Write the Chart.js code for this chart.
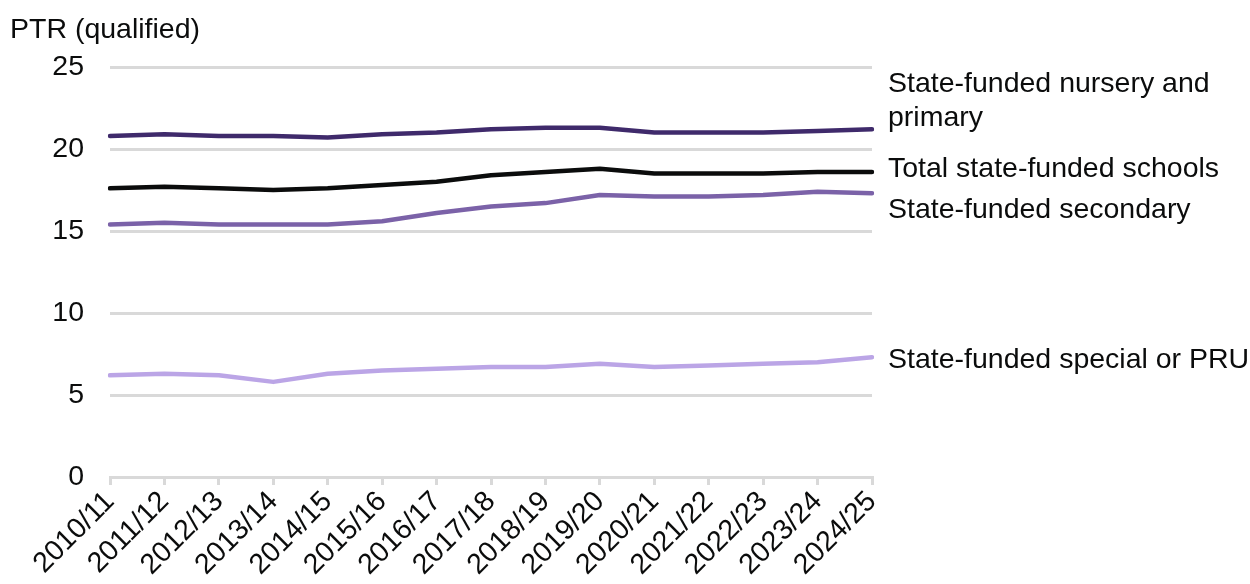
<!DOCTYPE html>
<html>
<head>
<meta charset="utf-8">
<script src="https://cdn.jsdelivr.net/npm/chart.js@4"></script>
<style>
    html, body { margin: 0; padding: 0; background: #ffffff; }
    #wrap { width: 1250px; height: 584px; position: relative; }
</style>
</head>
<body>
<div id="wrap"><canvas id="ptrChart"></canvas></div>
<script>
const years = ["2010/11", "2011/12", "2012/13", "2013/14", "2014/15", "2015/16", "2016/17",
    "2017/18", "2018/19", "2019/20", "2020/21", "2021/22", "2022/23", "2023/24", "2024/25"];

const nurseryPrimary = [20.8, 20.9, 20.8, 20.8, 20.7, 20.9, 21.0, 21.2, 21.3, 21.3, 21.0, 21.0, 21.0, 21.1, 21.2];
const totalSchools   = [17.6, 17.7, 17.6, 17.5, 17.6, 17.8, 18.0, 18.4, 18.6, 18.8, 18.5, 18.5, 18.5, 18.6, 18.6];
const secondary      = [15.4, 15.5, 15.4, 15.4, 15.4, 15.6, 16.1, 16.5, 16.7, 17.2, 17.1, 17.1, 17.2, 17.4, 17.3];
const specialPru     = [6.2, 6.3, 6.2, 5.8, 6.3, 6.5, 6.6, 6.7, 6.7, 6.9, 6.7, 6.8, 6.9, 7.0, 7.3];

const seriesNames = [
    ["State-funded nursery and", "primary"],
    ["Total state-funded schools"],
    ["State-funded secondary"],
    ["State-funded special or PRU"],
];

const FONT = "'Liberation Sans', Arial, sans-serif";
const SIZE = 28.5;

// labels at the right end of each line
const endLabels = {
    id: "endLabels",
    afterDatasetsDraw(chart) {
        const ctx = chart.ctx;
        const y = chart.scales.y;
        const shifts = [-28, -3, 17, 3];
        ctx.save();
        ctx.font = SIZE + "px " + FONT;
        ctx.fillStyle = "#0b0c0c";
        ctx.textAlign = "left";
        ctx.textBaseline = "middle";
        chart.data.datasets.forEach((ds, i) => {
            const lines = seriesNames[i];
            const yc = y.getPixelForValue(ds.data[ds.data.length - 1]) + shifts[i];
            const start = yc - (lines.length - 1) * 17;
            lines.forEach((t, k) => {
                ctx.fillText(t, chart.chartArea.right + 16, start + k * 34);
            });
        });
        ctx.restore();
    },
};

const axisTitle = {
    id: "axisTitle",
    afterDraw(chart) {
        const ctx = chart.ctx;
        ctx.save();
        ctx.font = SIZE + "px " + FONT;
        ctx.fillStyle = "#0b0c0c";
        ctx.textAlign = "left";
        ctx.textBaseline = "middle";
        ctx.fillText("PTR (qualified)", 10, 30);
        ctx.restore();
    },
};

function makeSet(label, data, color) {
    return {
        label,
        data,
        borderColor: color,
        backgroundColor: color,
        borderWidth: 4.5,
        pointRadius: 0,
        tension: 0,
        fill: false,
        borderCapStyle: "round",
        borderJoinStyle: "round",
    };
}

new Chart(document.getElementById("ptrChart"), {
    type: "line",
    data: {
        labels: years,
        datasets: [
            makeSet(seriesNames[0].join(" "), nurseryPrimary, "#3f2a6b"),
            makeSet(seriesNames[1][0], totalSchools, "#0b0c0c"),
            makeSet(seriesNames[2][0], secondary, "#7b62a8"),
            makeSet(seriesNames[3][0], specialPru, "#bba5e6"),
        ],
    },
    options: {
        responsive: true,
        maintainAspectRatio: false,
        animation: false,
        devicePixelRatio: 1,
        layout: {
            padding: { top: 67, right: 378, bottom: 0, left: 0 },
        },
        plugins: {
            legend: { display: false },
            tooltip: { enabled: false },
        },
        scales: {
            x: {
                offset: false,
                afterFit(scale) { scale.height = 107; },
                grid: {
                    drawOnChartArea: false,
                    drawTicks: true,
                    tickLength: 8,
                    color: "#d9d9d9",
                    lineWidth: 3,
                },
                border: { display: true, color: "#d9d9d9", width: 3 },
                ticks: {
                    color: "#0b0c0c",
                    minRotation: 45,
                    maxRotation: 45,
                    autoSkip: false,
                    padding: 0,
                    font: { family: FONT, size: SIZE },
                },
            },
            y: {
                min: 0,
                max: 25,
                afterFit(scale) { scale.width = 110; },
                grid: {
                    color: "#d9d9d9",
                    lineWidth: 3,
                    drawTicks: false,
                },
                border: { display: false },
                ticks: {
                    stepSize: 5,
                    color: "#0b0c0c",
                    padding: 26,
                    font: { family: FONT, size: SIZE },
                },
            },
        },
    },
    plugins: [endLabels, axisTitle],
});
</script>
</body>
</html>
